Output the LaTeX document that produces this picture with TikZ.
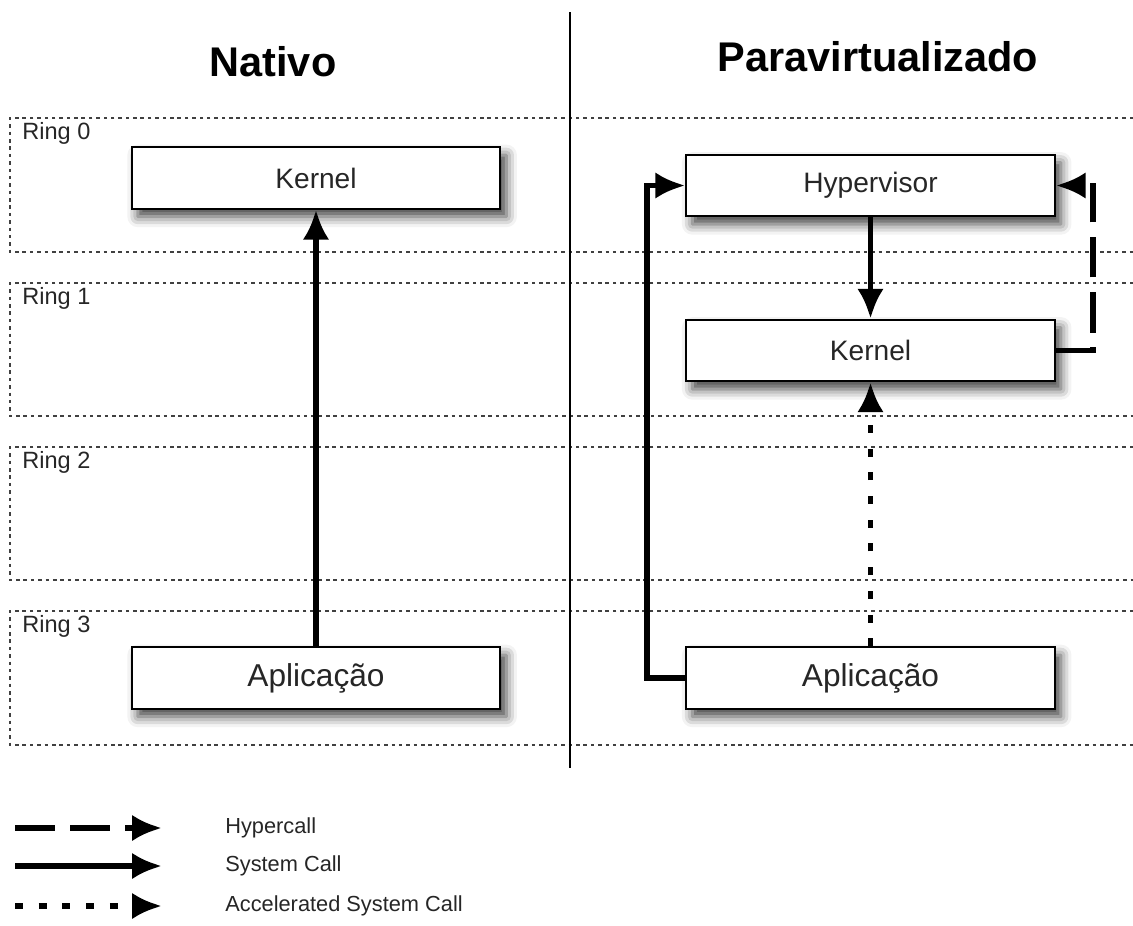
\documentclass[tikz,border=0pt]{standalone}
\usepackage{fontspec}
\setmainfont{Liberation Sans}
\usetikzlibrary{arrows.meta,shadows.blur}

\tikzset{
  caixa/.style={draw, fill=white, line width=1.1pt, text=black!85,
    minimum width=7.37cm, minimum height=1.23cm,
    font=\fontsize{16}{19}\selectfont,
    blur shadow={shadow xshift=3.5pt, shadow yshift=-4.5pt,
      shadow blur radius=6pt, shadow opacity=75}},
  anel/.style={black!75, line width=0.7pt, dash pattern=on 2pt off 2.2pt},
  chamada/.style={line width=3.2pt, -{Latex[length=17pt,width=15pt]}},
  hiper/.style={chamada, dash pattern=on 22.8pt off 8.5pt},
  acel/.style={chamada, dash pattern=on 4.5pt off 9pt},
  titulo/.style={font=\bfseries\fontsize{23.6}{28}\selectfont},
  rotulo/.style={inner sep=0pt, text=black!85}
}

\begin{document}
\begin{tikzpicture}
\useasboundingbox (0,0) rectangle (22.66,-18.5);
%Aneis
\foreach \n/\t/\b in {0/2.36/5.04, 1/5.66/8.32, 2/8.94/11.6, 3/12.22/14.9}{
  \draw [anel] (22.66,-\t) -- (0.2,-\t) -- (0.2,-\b) -- (22.66,-\b);
  \node [rotulo, anchor=base west, font=\fontsize{13.4}{16}\selectfont] (ring\n) at (0.44,-\t-0.43) {Ring \n};
}
%Divisoria
\draw [line width=1.6pt] (11.4,-0.24) -- (11.4,-15.36);
%Titulos
\node [titulo] (nativo) at (5.46,-1.24) {Nativo};
\node [titulo] (paravirt) at (17.56,-1.14) {Paravirtualizado};
%Nativo
\node [caixa] (kernelN) at (6.32,-3.56) {Kernel};
\node [caixa, font=\fontsize{18}{22}\selectfont] (appN) at (6.32,-13.56) {Aplicação};
\draw [chamada] (appN) -- (kernelN);
%Paravirtualizado
\node [caixa] (hyp) at (17.41,-3.71) {Hypervisor};
\node [caixa] (kernelP) at (17.41,-7.01) {Kernel};
\node [caixa, font=\fontsize{18}{22}\selectfont] (appP) at (17.41,-13.56) {Aplicação};
\draw [chamada] (hyp) -- (kernelP);
\draw [acel] (appP) -- (kernelP);
\draw [chamada] (appP.west) -- ++(-0.76,0) |- (hyp.west);
\draw [hiper] (kernelP.east) -- ++(0.74,0) |- (hyp.east);
%Legenda
\coordinate (h0) at (0.3,-16.56);  \coordinate (h1) at (3.24,-16.56);
\coordinate (s0) at (0.3,-17.32);  \coordinate (s1) at (3.24,-17.32);
\coordinate (a0) at (0.3,-18.12);  \coordinate (a1) at (3.24,-18.12);
\draw [hiper] (h0) -- (h1);
\draw [chamada] (s0) -- (s1);
\draw [acel] (a0) -- (a1);
\node [rotulo, anchor=west, font=\fontsize{12.4}{15}\selectfont] (lhiper) at (4.5,-16.56) {Hypercall};
\node [rotulo, anchor=west, font=\fontsize{12.4}{15}\selectfont] (lsis) at (4.5,-17.32) {System Call};
\node [rotulo, anchor=west, font=\fontsize{12.4}{15}\selectfont] (lacel) at (4.5,-18.12) {Accelerated System Call};
\end{tikzpicture}
\end{document}
